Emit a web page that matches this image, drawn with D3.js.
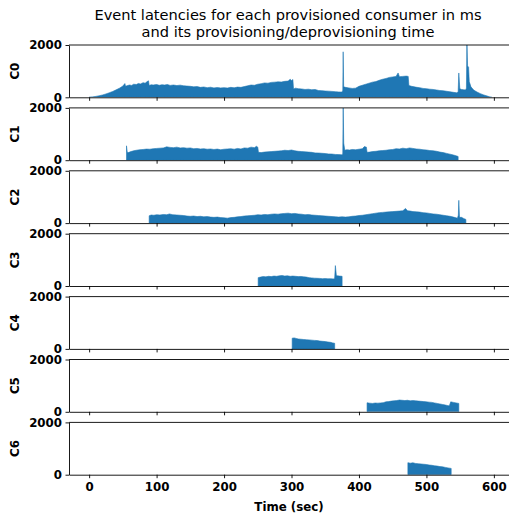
<!DOCTYPE html>
<html>
<head>
<meta charset="utf-8">
<script src="https://cdn.jsdelivr.net/npm/d3@7"></script>
<style>
    body { margin: 0; background: #fff; }
    svg { display: block; font-family: "DejaVu Sans", sans-serif; }
</style>
</head>
<body>
<svg id="chart" width="509" height="516"></svg>
<script>
// 消费者名称
const consumers = ['C0', 'C1', 'C2', 'C3', 'C4', 'C5', 'C6'];

// 各消费者延迟 [时间(秒), 延迟(ms)]
const c0 = [[0,0],[5,15],[10,35],[15,60],[20,90],[25,130],[30,175],[35,225],[40,285],[45,350],[50,430],[53,525],[54,420],[57,450],[60,470],[63,455],[66,500],[70,490],[73,530],[76,510],[80,560],[83,540],[86,600],[88,630],[89,450],[92,480],[95,470],[100,490],[104,460],[108,480],[112,470],[116,490],[120,455],[125,470],[130,450],[135,465],[140,440],[145,430],[150,420],[155,400],[160,410],[165,380],[170,395],[175,370],[180,385],[185,360],[190,375],[195,360],[200,370],[205,355],[210,380],[215,365],[220,390],[225,380],[230,410],[235,440],[240,470],[245,460],[250,500],[255,520],[260,550],[265,540],[270,570],[275,580],[280,590],[285,585],[290,610],[295,620],[298,690],[300,640],[302,680],[303,320],[306,350],[310,330],[315,320],[320,300],[325,310],[330,290],[335,300],[340,260],[345,255],[350,240],[355,235],[360,225],[365,215],[370,205],[374,200],[376,240],[376.6,1740],[377.3,400],[380,380],[385,360],[390,340],[395,350],[400,420],[405,460],[410,500],[415,540],[420,580],[425,600],[430,650],[435,690],[440,720],[445,760],[450,780],[455,800],[458,930],[460,790],[465,800],[470,810],[473,800],[474,450],[478,420],[482,400],[486,380],[490,370],[495,340],[500,330],[505,310],[510,300],[515,280],[520,260],[525,250],[530,230],[535,210],[540,190],[545,170],[547,200],[548,930],[549.5,330],[552,300],[555,290],[558,280],[559.3,350],[560,2200],[561,1200],[562.5,1150],[563.5,600],[566,400],[570,280],[575,200],[580,140],[585,90],[590,50],[594,15],[597,0]];
const c1 = [[55.4,0],[55.4,550],[56.5,300],[58,290],[62,330],[66,360],[70,380],[75,400],[80,410],[85,425],[90,420],[95,440],[100,450],[105,460],[110,470],[115,510],[120,490],[125,480],[130,500],[135,470],[140,480],[145,460],[150,470],[155,440],[160,450],[165,430],[170,440],[175,420],[180,430],[185,410],[190,425],[195,400],[200,420],[205,430],[210,440],[215,420],[220,450],[225,430],[230,470],[235,460],[240,500],[245,480],[248,530],[250,500],[251,300],[255,290],[260,310],[265,320],[270,330],[275,340],[280,350],[285,360],[290,380],[295,370],[300,390],[305,360],[310,340],[315,330],[320,320],[325,310],[330,300],[335,280],[340,275],[345,265],[350,255],[355,240],[360,235],[365,220],[370,215],[374,205],[376,230],[376.6,2200],[377.4,650],[379,380],[382,400],[386,390],[390,410],[395,400],[400,420],[405,440],[408,520],[411,500],[412,300],[416,310],[420,330],[425,340],[430,360],[435,370],[440,380],[445,400],[450,410],[455,440],[460,430],[465,460],[470,440],[475,470],[480,450],[485,430],[490,420],[495,400],[500,390],[505,370],[510,360],[515,340],[520,310],[525,290],[530,260],[535,230],[540,200],[545,160],[547,140],[547,0]];
const c2 = [[89,0],[89,280],[92,310],[96,300],[100,320],[105,310],[110,330],[115,320],[119,350],[124,320],[130,310],[135,300],[140,290],[145,270],[150,260],[155,270],[160,250],[165,260],[170,240],[175,250],[180,230],[185,220],[190,230],[195,210],[200,200],[205,190],[210,210],[215,220],[220,240],[225,250],[230,270],[235,280],[240,290],[245,300],[250,320],[255,310],[260,330],[265,320],[270,340],[275,350],[280,340],[285,360],[290,370],[295,380],[300,360],[305,370],[310,350],[315,340],[320,320],[325,330],[330,310],[335,300],[340,290],[345,280],[350,270],[355,260],[360,250],[365,240],[370,230],[375,240],[380,230],[385,240],[390,260],[395,270],[400,290],[405,300],[410,320],[415,340],[420,360],[425,380],[430,400],[435,410],[440,420],[445,430],[450,440],[455,450],[460,460],[465,470],[469,560],[472,470],[476,460],[480,440],[485,430],[490,420],[495,400],[500,390],[505,370],[510,350],[515,340],[520,320],[525,300],[530,280],[535,260],[540,230],[544,200],[546,190],[547.3,300],[548,870],[549,220],[552,220],[555,180],[558.5,140],[558.5,0]];
const c3 = [[250.6,0],[250.6,320],[254,340],[258,360],[262,350],[266,370],[270,360],[274,380],[278,370],[282,390],[286,400],[290,380],[294,390],[298,370],[302,380],[306,370],[310,360],[314,365],[318,350],[322,340],[326,320],[330,310],[334,300],[338,295],[342,290],[346,280],[350,285],[354,275],[358,280],[362,270],[364,300],[365,780],[366.5,400],[368,390],[371,380],[375,370],[375,0]];
const c4 = [[301,0],[301,410],[304,420],[307,400],[310,380],[314,370],[318,360],[322,350],[326,345],[330,335],[334,325],[338,320],[342,300],[346,290],[350,280],[354,265],[358,250],[361,230],[364,215],[364,0]];
const c5 = [[412,0],[412,345],[416,330],[420,320],[424,335],[428,330],[432,340],[436,350],[440,380],[444,390],[448,410],[452,420],[456,430],[460,450],[464,440],[468,430],[472,440],[476,420],[480,430],[484,420],[488,410],[492,400],[496,390],[500,380],[504,370],[508,360],[512,340],[516,320],[520,300],[524,280],[528,260],[532,235],[534,230],[536,380],[540,360],[544,340],[548,320],[548,0]];
const c6 = [[472.5,0],[472.5,460],[476,440],[480,455],[484,430],[488,420],[492,410],[496,400],[500,390],[504,370],[508,360],[512,340],[516,330],[520,310],[524,300],[528,280],[532,260],[536.7,240],[536.7,0]];

// 刻度
const xTicks = [0, 100, 200, 300, 400, 500, 600];
const yTicks = [0, 2000];

const series = [c0, c1, c2, c3, c4, c5, c6];

// 布局
const left = 69, right = 512;
const panelTop = 45, panelH = 52.3, panelStep = 62.9;
const fill = '#1f77b4';

const svg = d3.select('#chart');

// 比例尺
const x = d3.scaleLinear().domain([-29.85, 626.85]).range([left, right]);
const y = d3.scaleLinear().domain([0, 2000]).range([panelH, 0]);

// 面积生成器
const area = d3.area()
    .x(d => x(d[0]))
    .y0(y(0))
    .y1(d => y(d[1]));

// 裁剪区域
svg.append('defs').append('clipPath').attr('id', 'clip')
    .append('rect')
    .attr('x', left).attr('y', 0)
    .attr('width', right - left).attr('height', panelH);

// 标题
const title = svg.append('text')
    .attr('text-anchor', 'middle')
    .attr('font-size', 14.6)
    .attr('fill', '#000');
title.append('tspan').attr('x', 288).attr('y', 20).text('Event latencies for each provisioned consumer in ms');
title.append('tspan').attr('x', 288).attr('y', 37).text('and its provisioning/deprovisioning time');

// 逐个画子图
series.forEach((data, i) => {
    let g = svg.append('g').attr('transform', `translate(0,${panelTop + i * panelStep})`);

    // 填充面积
    g.append('path')
        .datum(data)
        .attr('clip-path', 'url(#clip)')
        .attr('fill', fill)
        .attr('stroke', fill)
        .attr('stroke-width', 0.6)
        .attr('d', area);

    // 顶部边框
    g.append('line')
        .attr('x1', left).attr('x2', right)
        .attr('y1', 0).attr('y2', 0)
        .attr('stroke', '#000').attr('stroke-width', 0.9);

    // x 轴，仅最后一个显示文字
    let xa = g.append('g')
        .attr('transform', `translate(0,${panelH})`)
        .call(d3.axisBottom(x).tickValues(xTicks).tickSize(3.5).tickSizeOuter(0).tickPadding(4)
            .tickFormat(i === series.length - 1 ? d3.format('d') : () => ''));

    // y 轴
    let ya = g.append('g')
        .attr('transform', `translate(${left},0)`)
        .call(d3.axisLeft(y).tickValues(yTicks).tickSize(3.5).tickSizeOuter(0).tickPadding(3.5)
            .tickFormat(d3.format('d')));

    [xa, ya].forEach(a => {
        a.select('.domain').attr('stroke', '#000').attr('stroke-width', 0.9);
        a.selectAll('.tick line').attr('stroke', '#000').attr('stroke-width', 0.9);
        a.selectAll('.tick text')
            .attr('fill', '#000')
            .attr('font-size', 11.8)
            .attr('font-weight', 'bold')
            .attr('font-family', '"DejaVu Sans", sans-serif');
    });

    // y 轴标签
    g.append('text')
        .attr('transform', `translate(18.5,${panelH / 2}) rotate(-90)`)
        .attr('text-anchor', 'middle')
        .attr('font-size', 11.8)
        .attr('font-weight', 'bold')
        .attr('fill', '#000')
        .text(consumers[i]);
});

// x 轴标题
svg.append('text')
    .attr('x', 289).attr('y', 511)
    .attr('text-anchor', 'middle')
    .attr('font-size', 11.8)
    .attr('font-weight', 'bold')
    .attr('fill', '#000')
    .text('Time (sec)');
</script>
</body>
</html>
